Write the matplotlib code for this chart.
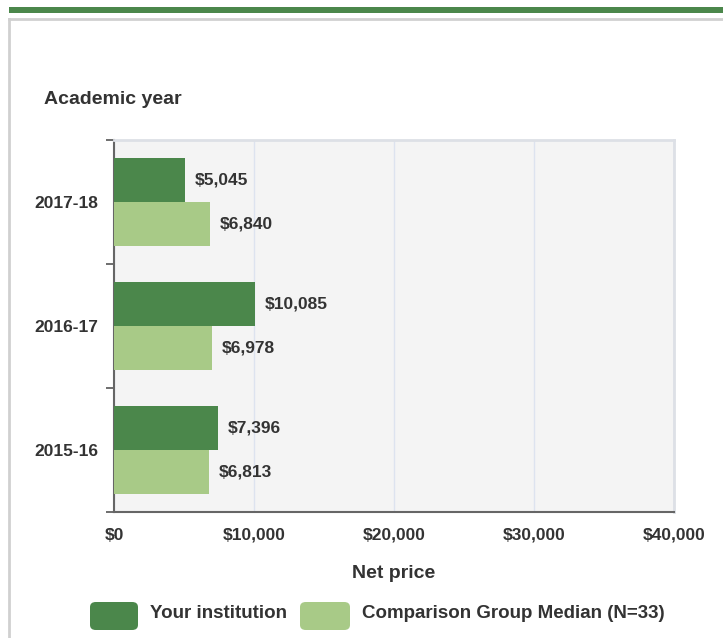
import matplotlib.pyplot as plt
from matplotlib.patches import FancyBboxPatch, Rectangle
from matplotlib.lines import Line2D

years = ["2015-16", "2016-17", "2017-18"]
your_institution = [7396, 10085, 5045]
comparison_median = [6813, 6978, 6840]
x_ticks = [0, 10000, 20000, 30000, 40000]
series_names = ["Your institution", "Comparison Group Median (N=33)"]

dark = "#4b874b"
light = "#a8ca87"
text_c = "#333333"
W, H = 723, 638

plt.rcParams['font.family'] = ['Liberation Sans', 'DejaVu Sans']
fig = plt.figure(figsize=(W / 100, H / 100), dpi=100)

# decoration: green bar on top and grey frame
fig.patches.append(Rectangle((9 / W, 1 - 13 / H), 1, 6 / H, transform=fig.transFigure,
                             color="#4b874b", lw=0))
fig.add_artist(Line2D([9 / W, 9 / W], [0, 1 - 19 / H], transform=fig.transFigure,
                      color="#d0d0d0", lw=2))
fig.add_artist(Line2D([9 / W, 1], [1 - 19 / H, 1 - 19 / H], transform=fig.transFigure,
                      color="#d0d0d0", lw=2))

ax = fig.add_axes([114 / W, 1 - 512 / H, 560 / W, 372 / H])
ax.set_facecolor("#f4f4f4")
h = 0.355
ypos = list(range(len(years)))
ax.barh([y + h / 2 for y in ypos], your_institution, height=h, color=dark, zorder=3)
ax.barh([y - h / 2 for y in ypos], comparison_median, height=h, color=light, zorder=3)
for y, v in zip(ypos, your_institution):
    ax.text(v + 700, y + h / 2, f"${v:,}", va="center", ha="left", fontsize=12.5,
            fontweight="bold", color=text_c, zorder=4)
for y, v in zip(ypos, comparison_median):
    ax.text(v + 700, y - h / 2, f"${v:,}", va="center", ha="left", fontsize=12.5,
            fontweight="bold", color=text_c, zorder=4)

ax.set_xlim(0, 40000)
ax.set_ylim(-0.5, 2.5)
ax.set_xticks(x_ticks)
ax.set_xticklabels([f"${t:,}" for t in x_ticks], fontsize=12.5, fontweight="bold", color=text_c)
ax.set_yticks(ypos)
ax.set_yticklabels(years, fontsize=12.5, fontweight="bold", color=text_c)
ax.set_yticks([-0.5, 0.5, 1.5, 2.5], minor=True)
ax.tick_params(axis="y", which="major", length=0, pad=11.5)
ax.tick_params(axis="y", which="minor", length=6, width=1.2, color="#555555")
ax.tick_params(axis="x", length=0, pad=11.5)
ax.grid(axis="x", color="#dde3ef", lw=1, zorder=1)
for s in ["top", "right"]:
    ax.spines[s].set_color("#dde0e6")
    ax.spines[s].set_linewidth(2)
ax.spines["left"].set_color("#666666")
ax.spines["left"].set_linewidth(1.5)
ax.spines["bottom"].set_color("#666666")
ax.spines["bottom"].set_linewidth(1.5)

ax.set_xlabel("Net price", fontsize=14, fontweight="bold", color=text_c, labelpad=16)
fig.text(44 / W, 1 - 100 / H, "Academic year", fontsize=14, fontweight="bold",
         color=text_c, va="center", ha="left")

# legend
for x0, w, col, name, tx in [(90, 48, dark, series_names[0], 150),
                             (300, 50, light, series_names[1], 362)]:
    fig.patches.append(FancyBboxPatch((x0 / W, 1 - 630 / H), w / W, 28 / H,
                                      boxstyle="round,pad=0,rounding_size=0.008",
                                      transform=fig.transFigure, color=col, lw=0))
    fig.text(tx / W, 1 - 613 / H, name, fontsize=13.5, fontweight="bold", color=text_c,
             va="center", ha="left")

plt.savefig("out.png", dpi=100)
plt.close()
